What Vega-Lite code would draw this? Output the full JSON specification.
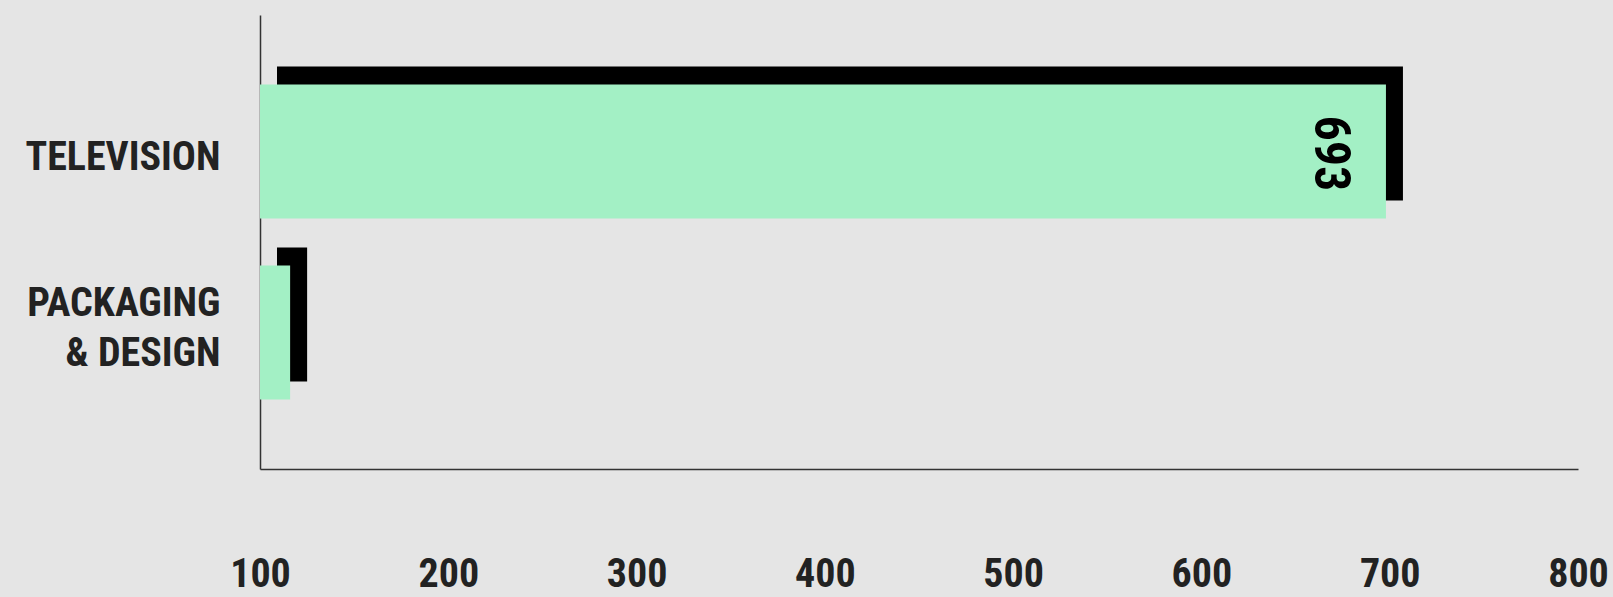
{
  "$schema": "https://vega.github.io/schema/vega-lite/v6.json",
  "autosize": {"type": "none"},
  "width": 1318,
  "height": 454,
  "padding": {"left": 260, "top": 15, "right": 35, "bottom": 128},
  "background": "#e5e5e5",
  "config": {
    "view": {"stroke": null},
    "font": "Roboto Condensed, Roboto"
  },
  "data": {
    "values": [
      {"category": "TELEVISION", "value": 698, "label": "693"},
      {"category": "PACKAGING & DESIGN", "value": 116, "label": ""}
    ]
  },
  "encoding": {
    "y": {
      "field": "category",
      "type": "nominal",
      "sort": null,
      "scale": {"paddingInner": 0.26, "paddingOuter": 0.384},
      "axis": {
        "title": null,
        "ticks": false,
        "domainColor": "#333333",
        "domainWidth": 1.5,
        "labelFont": "Roboto Condensed, Roboto",
        "labelFontWeight": "bold",
        "labelFontSize": 40,
        "labelColor": "#222222",
        "labelPadding": 40,
        "labelLimit": 0,
        "labelLineHeight": 50,
        "labelOffset": {"expr": "datum.value == 'TELEVISION' ? 7 : -29"},
        "labelExpr": "datum.value == 'PACKAGING & DESIGN' ? ['PACKAGING', '& DESIGN'] : datum.label"
      }
    }
  },
  "layer": [
    {
      "mark": {"type": "bar", "color": "#000000", "xOffset": 17, "x2Offset": 17, "yOffset": -18, "y2Offset": -18},
      "encoding": {
        "x": {
          "field": "value",
          "type": "quantitative",
          "scale": {"domain": [100, 800], "nice": false, "zero": false},
          "axis": {
            "title": null,
            "values": [100, 200, 300, 400, 500, 600, 700, 800],
            "grid": false,
            "ticks": false,
            "domainColor": "#333333",
            "domainWidth": 1.5,
            "labelFont": "Roboto Condensed, Roboto",
            "labelFontWeight": "bold",
            "labelFontSize": 40,
            "labelColor": "#222222",
            "labelBaseline": "alphabetic",
            "labelPadding": 117,
            "labelFlush": false,
            "labelOverlap": false
          }
        },
        "x2": {"datum": 100}
      }
    },
    {
      "mark": {"type": "bar", "color": "#a3f0c5"},
      "encoding": {
        "x": {"field": "value", "type": "quantitative"},
        "x2": {"datum": 100}
      }
    },
    {
      "mark": {"type": "text", "angle": 90, "align": "center", "baseline": "alphabetic", "xOffset": -71, "yOffset": 2, "font": "Roboto Condensed, Roboto", "fontWeight": "bold", "fontSize": 50, "color": "#000000"},
      "encoding": {
        "x": {"field": "value", "type": "quantitative"},
        "text": {"field": "label"}
      }
    }
  ]
}
